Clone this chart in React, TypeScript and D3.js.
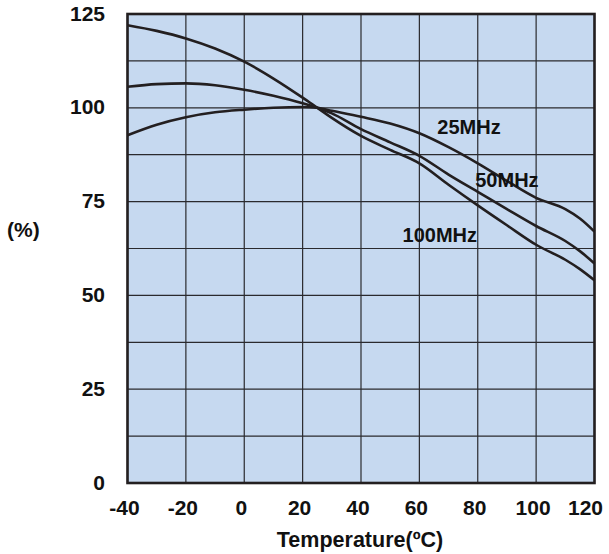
import React from "react";
import * as d3 from "d3";

const temps = [-40, -30, -20, -10, 0, 10, 20, 25, 30, 40, 50, 60, 70, 80, 90, 100, 110, 115, 120];
const mhz25 = [92.7, 95.5, 97.5, 98.8, 99.5, 100, 100.2, 100, 99.2, 97.6, 95.8, 93.2, 89.5, 85.2, 80.5, 76, 73, 70.5, 67];
const mhz50 = [105.6, 106.3, 106.5, 106, 104.8, 103.2, 101.2, 100, 98.5, 94.3, 90.8, 87.2, 82.2, 77.6, 73, 68.5, 64.5, 61.8, 58.5];
const mhz100 = [122, 120.5, 118.5, 115.8, 112.3, 107.8, 102.7, 100, 97.3, 92.5, 88.8, 85.2, 79.5, 74, 68.7, 63.5, 59.5, 57, 54];
const xTicks = [-40, -20, 0, 20, 40, 60, 80, 100, 120];
const yTicks = [0, 25, 50, 75, 100, 125];
const yGrid = [0, 12.5, 25, 37.5, 50, 62.5, 75, 87.5, 100, 112.5, 125];
const seriesLabels = ["25MHz", "50MHz", "100MHz"];
const labelPos = [
  { t: 77, v: 93 },
  { t: 90, v: 78.9 },
  { t: 67, v: 64.1 },
];

export default function App() {
  const x = d3.scaleLinear().domain([-40, 120]).range([127.5, 594.5]);
  const y = d3.scaleLinear().domain([0, 125]).range([483, 14]);
  const line = d3
    .line<number>()
    .x((_, i) => x(temps[i]))
    .y((d) => y(d))
    .curve(d3.curveMonotoneX);
  const series = [mhz25, mhz50, mhz100];
  const font = "'Liberation Sans', Arial, Helvetica, sans-serif";
  return (
    <svg
      width={609}
      height={554}
      style={{ position: "absolute", left: 0, top: 0, display: "block" }}
      fontFamily={font}
      fontWeight="bold"
    >
      <rect x={0} y={0} width={609} height={554} fill="#fff" />
      <rect x={x(-40)} y={y(125)} width={x(120) - x(-40)} height={y(0) - y(125)} fill="#c6d9f0" />
      {xTicks.map((t) => (
        <line key={"vx" + t} x1={x(t)} x2={x(t)} y1={y(0)} y2={y(125)} stroke="#2a2a2e" strokeWidth={1.2} />
      ))}
      {yGrid.map((v) => (
        <line key={"hy" + v} x1={x(-40)} x2={x(120)} y1={y(v)} y2={y(v)} stroke="#2a2a2e" strokeWidth={1.2} />
      ))}
      {series.map((s, i) => (
        <path key={i} d={line(s) || ""} fill="none" stroke="#231f20" strokeWidth={2.6} />
      ))}
      <rect
        x={x(-40)}
        y={y(125)}
        width={x(120) - x(-40)}
        height={y(0) - y(125)}
        fill="none"
        stroke="#231f20"
        strokeWidth={2.6}
      />
      {seriesLabels.map((l, i) => (
        <text key={l} x={x(labelPos[i].t)} y={y(labelPos[i].v)} fontSize={20} textAnchor="middle" fill="#111">
          {l}
        </text>
      ))}
      {xTicks.map((t, i) => (
        <text
          key={"xl" + t}
          x={x(t) + (i === xTicks.length - 1 ? -9 : -3)}
          y={515}
          fontSize={21}
          textAnchor="middle"
          fill="#111"
        >
          {t}
        </text>
      ))}
      {yTicks.map((v) => (
        <text key={"yl" + v} x={105} y={y(v) + 6.5} fontSize={21} textAnchor="end" fill="#111">
          {v}
        </text>
      ))}
      <text x={7} y={237} fontSize={21} fill="#111">
        (%)
      </text>
      <text x={360} y={547} fontSize={21.5} textAnchor="middle" fill="#111">
        Temperature(ºC)
      </text>
    </svg>
  );
}
